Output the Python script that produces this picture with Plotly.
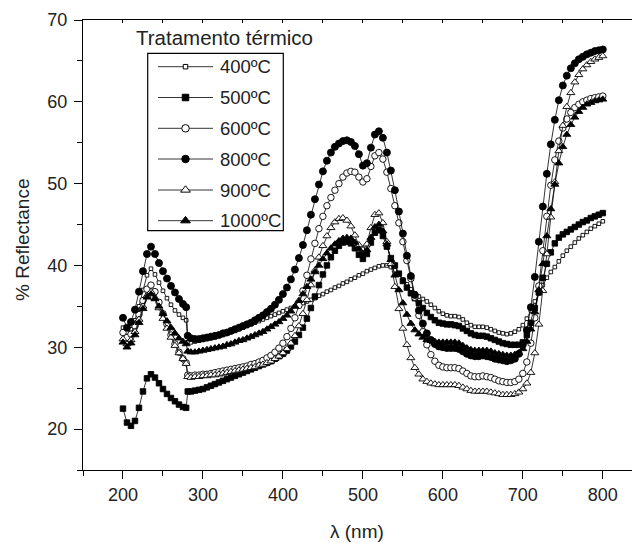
import plotly.graph_objects as go

# Wavelength grid (nm); the spectrometer lamp change near 280 nm gives a step
wavelength = list(range(200, 280, 5)) + [279, 281] + list(range(285, 805, 5))

temperatures = ["400ºC", "500ºC", "600ºC", "800ºC", "900ºC", "1000ºC"]

r400 = [32.4, 31.8, 32.2, 33.3, 35.0, 37.0, 38.8, 39.6, 38.9, 37.9, 36.9, 36.0, 35.2, 34.5, 34.0, 33.6, 33.3,
        30.6, 30.6, 30.7, 30.8, 30.9, 31.0, 31.1, 31.2, 31.4, 31.5, 31.7, 31.9, 32.0, 32.2, 32.4, 32.6, 32.8,
        33.0, 33.2, 33.4, 33.6, 33.8, 34.0, 34.2, 34.4, 34.6, 34.8, 35.0, 35.2, 35.4, 35.6, 35.8, 36.0, 36.3,
        36.5, 36.8, 37.0, 37.3, 37.5, 37.8, 38.0, 38.3, 38.5, 38.8, 39.0, 39.3, 39.5, 39.7, 39.9, 40.0, 40.0,
        39.8, 39.4, 38.9, 38.3, 37.7, 37.1, 36.6, 36.2, 35.9, 35.6, 35.2, 34.8, 34.4, 34.1, 33.9, 33.8, 33.8,
        33.7, 33.4, 33.0, 32.7, 32.5, 32.5, 32.5, 32.4, 32.2, 32.0, 31.8, 31.7, 31.6, 31.7, 31.9, 32.2, 32.7,
        33.5, 34.5, 35.6, 36.6, 37.6, 38.5, 39.2, 39.8, 40.5, 41.2, 41.8, 42.3, 42.8, 43.3, 43.7, 44.1, 44.5,
        44.8, 45.1, 45.4]

r500 = [22.5, 20.8, 20.4, 21.0, 22.6, 24.6, 26.2, 26.7, 26.3, 25.6, 24.9, 24.3, 23.8, 23.4, 23.0, 22.7, 22.6,
        24.6, 24.6, 24.7, 24.8, 24.9, 25.1, 25.3, 25.5, 25.7, 25.9, 26.1, 26.3, 26.5, 26.7, 26.9, 27.1, 27.3,
        27.5, 27.7, 27.9, 28.1, 28.3, 28.6, 28.9, 29.2, 29.6, 30.1, 30.7, 31.5, 32.4, 33.5, 34.8, 36.2, 37.6,
        38.9, 40.0, 41.0, 41.8, 42.4, 42.8, 42.9, 42.7, 42.1, 41.3, 40.8, 41.4, 42.8, 44.0, 44.3, 43.6, 42.3,
        40.9, 40.0, 39.0, 38.1, 37.3, 36.6, 36.0, 35.4, 34.8, 34.2, 33.7, 33.3, 33.0, 32.9, 32.8, 32.8, 32.7,
        32.6, 32.3, 32.0, 31.7, 31.5, 31.4, 31.4, 31.3, 31.1, 30.9, 30.7, 30.5, 30.4, 30.3, 30.3, 30.3, 30.6,
        31.5, 33.0, 34.8, 36.7, 38.5, 40.2, 41.6, 42.7, 43.4, 43.8, 44.1, 44.4, 44.7, 45.0, 45.3, 45.5, 45.8,
        46.0, 46.2, 46.4]

r600 = [31.8, 31.2, 31.6, 32.6, 34.0, 35.7, 37.1, 37.6, 36.8, 35.5, 34.1, 32.8, 31.5, 30.4, 29.4, 28.6, 28.1,
        26.6, 26.5, 26.6, 26.6, 26.7, 26.7, 26.8, 26.9, 27.0, 27.1, 27.2, 27.3, 27.4, 27.5, 27.6, 27.7, 27.9,
        28.0, 28.2, 28.4, 28.7, 29.0, 29.4, 29.9, 30.5, 31.3, 32.3, 33.6, 35.1, 36.9, 38.8, 40.8, 42.7, 44.5,
        46.0, 47.3, 48.3, 49.2, 50.0, 50.8, 51.3, 51.5, 51.4, 50.8, 50.2, 50.6, 52.1, 53.4, 53.8, 53.0, 51.4,
        49.4, 47.3, 45.2, 42.9, 40.6, 38.4, 36.1, 33.9, 31.9, 30.3, 29.1, 28.3, 27.8, 27.6, 27.5, 27.5, 27.5,
        27.4, 27.1, 26.8, 26.5, 26.4, 26.4, 26.5, 26.4, 26.3, 26.1, 25.9, 25.8, 25.7, 25.7, 25.8, 26.1, 26.8,
        28.2, 30.5, 33.6, 37.5, 41.8, 46.0, 49.8, 52.9, 55.2, 56.8, 57.9, 58.7, 59.3, 59.7, 60.0, 60.2, 60.4,
        60.5, 60.6, 60.7]

r800 = [33.6, 32.4, 33.1, 34.6, 36.8, 39.3, 41.4, 42.3, 41.4, 40.3, 39.3, 38.4, 37.5, 36.7, 35.9, 35.3, 34.9,
        31.4, 31.1, 31.0, 31.0, 31.1, 31.2, 31.3, 31.4, 31.5, 31.7, 31.8, 32.0, 32.2, 32.4, 32.6, 32.8, 33.0,
        33.3, 33.6, 33.9, 34.3, 34.7, 35.2, 35.8, 36.5, 37.3, 38.3, 39.5, 40.9, 42.5, 44.3, 46.2, 48.1, 49.9,
        51.5, 52.8, 53.8, 54.5, 54.9, 55.2, 55.3, 55.1, 54.6, 53.6, 52.2, 52.5, 54.4, 56.0, 56.4, 55.6, 53.8,
        51.6, 49.2, 46.6, 43.9, 41.2, 38.7, 36.4, 34.5, 32.9, 31.7, 30.9, 30.4, 30.1, 30.0, 29.9, 29.9, 29.9,
        29.8, 29.5, 29.2, 29.0, 28.9, 28.9, 29.0, 28.9, 28.8, 28.6, 28.5, 28.4, 28.3, 28.4, 28.6, 29.2, 30.3,
        32.1, 34.9, 38.6, 42.9, 47.2, 51.2, 54.8, 57.8, 60.2, 62.0, 63.2, 64.1, 64.7, 65.2, 65.5, 65.8, 66.0,
        66.2, 66.3, 66.4]

r900 = [31.0, 30.4, 30.9, 31.9, 33.4, 35.0, 36.3, 36.8, 36.0, 34.8, 33.5, 32.3, 31.2, 30.2, 29.3, 28.6, 28.0,
        26.4, 26.3, 26.4, 26.4, 26.5, 26.5, 26.6, 26.6, 26.7, 26.8, 26.9, 27.0, 27.1, 27.2, 27.3, 27.4, 27.5,
        27.6, 27.8, 27.9, 28.1, 28.3, 28.6, 28.9, 29.3, 29.8, 30.5, 31.4, 32.6, 34.1, 35.8, 37.6, 39.4, 41.0,
        42.4, 43.6, 44.6, 45.3, 45.7, 45.8, 45.5, 44.8, 43.7, 42.5, 41.9, 42.6, 44.6, 46.2, 46.4, 45.2, 42.9,
        40.2, 37.4, 34.7, 32.3, 30.3, 28.7, 27.5, 26.7, 26.1, 25.8, 25.6, 25.5, 25.4, 25.4, 25.4, 25.4, 25.4,
        25.3, 25.1, 24.9, 24.7, 24.6, 24.6, 24.6, 24.6, 24.5, 24.4, 24.3, 24.2, 24.2, 24.2, 24.3, 24.5, 24.9,
        25.6, 26.9, 29.3, 32.8, 36.9, 41.4, 45.9, 50.2, 54.0, 57.1, 59.4, 61.1, 62.4, 63.3, 64.0, 64.5, 64.9,
        65.2, 65.4, 65.6]

r1000 = [30.6, 30.0, 30.5, 31.5, 33.0, 34.7, 36.1, 36.5, 35.9, 35.0, 34.1, 33.2, 32.4, 31.7, 31.1, 30.7, 30.4,
         29.5, 29.4, 29.4, 29.5, 29.6, 29.7, 29.8, 29.9, 30.0, 30.1, 30.3, 30.4, 30.6, 30.8, 30.9, 31.1, 31.3,
         31.5, 31.7, 31.9, 32.2, 32.5, 32.8, 33.1, 33.5, 33.9, 34.4, 35.0, 35.7, 36.5, 37.4, 38.3, 39.2, 40.0,
         40.8, 41.5, 42.1, 42.6, 43.0, 43.3, 43.4, 43.3, 42.8, 42.0, 41.4, 41.9, 43.4, 44.7, 45.0, 44.2, 42.6,
         40.7, 38.8, 37.0, 35.4, 34.0, 32.9, 32.1, 31.6, 31.2, 30.9, 30.8, 30.7, 30.6, 30.6, 30.6, 30.6, 30.6,
         30.5, 30.2, 29.9, 29.7, 29.6, 29.6, 29.6, 29.6, 29.5, 29.3, 29.2, 29.1, 29.0, 29.0, 29.1, 29.3, 29.8,
         30.7, 32.2, 34.3, 37.0, 40.2, 43.6, 46.9, 49.9, 52.5, 54.5, 56.0, 57.2, 58.1, 58.8, 59.3, 59.7, 59.9,
         60.1, 60.2, 60.3]

series = [r400, r500, r600, r800, r900, r1000]
for name, vals in zip(temperatures, series):
    if len(vals) != len(wavelength):
        raise ValueError(f"{name}: {len(vals)} values for {len(wavelength)} wavelengths")

# marker style per treatment: (symbol, plot size, legend size, fill)
styles = [
    ("square", 3.6, 4.5, "white"),
    ("square", 5.5, 6.5, "black"),
    ("circle", 6.5, 7.5, "white"),
    ("circle", 7.0, 7.5, "black"),
    ("triangle-up", 7.0, 8.5, "white"),
    ("triangle-up", 7.0, 8.5, "black"),
]

FONT = "Liberation Sans, Arial, Helvetica, sans-serif"
W, H = 632, 543
ML, MT, MB = 83, 20, 73
PW, PH = W - ML, H - MT - MB

fig = go.Figure()

for name, vals, (sym, size, _, fill) in zip(temperatures, series, styles):
    fig.add_trace(go.Scatter(
        x=wavelength, y=vals, name=name, mode="lines+markers",
        line=dict(color="black", width=0.8),
        marker=dict(symbol=sym, size=size, color=fill,
                    line=dict(color="black", width=0.9)),
        showlegend=False,
    ))

# Legend drawn on a pixel-scaled overlay axis pair (origin at top-left of plot area)
row_y = [46.7, 77.5, 108.3, 139.0, 170.0, 200.7]
x_line0, x_line1 = 75, 130
x_mark = 102.5
x_text = 135
for name, yy, (sym, _, lsize, fill) in zip(temperatures, row_y, styles):
    fig.add_trace(go.Scatter(
        x=[x_line0, x_line1], y=[yy, yy], mode="lines",
        line=dict(color="black", width=0.8),
        xaxis="x2", yaxis="y2", showlegend=False, hoverinfo="skip",
    ))
    fig.add_trace(go.Scatter(
        x=[x_mark], y=[yy], mode="markers",
        marker=dict(symbol=sym, size=lsize, color=fill,
                    line=dict(color="black", width=1)),
        xaxis="x2", yaxis="y2", showlegend=False, hoverinfo="skip",
    ))
    fig.add_annotation(x=x_text, y=yy, xref="x2", yref="y2", text=name,
                       showarrow=False, xanchor="left", yanchor="middle",
                       font=dict(family=FONT, size=18.5, color="#222"))

fig.add_shape(type="rect", xref="x2", yref="y2", x0=64.7, x1=200.3, y0=33.3, y1=210.7,
              line=dict(color="black", width=1.2), fillcolor="rgba(0,0,0,0)")
fig.add_annotation(x=141, y=17, xref="x2", yref="y2", text="Tratamento térmico",
                   showarrow=False, xanchor="center", yanchor="middle",
                   font=dict(family=FONT, size=20.5, color="#222"))

# empty trace so the top tick axis is rendered
fig.add_trace(go.Scatter(x=[], y=[], xaxis="x3", yaxis="y", showlegend=False))

axis_common = dict(showgrid=False, zeroline=False, color="black",
                   tickfont=dict(family=FONT, size=18, color="#222"))

fig.update_layout(
    width=W, height=H, autosize=False,
    margin=dict(l=ML, r=0, t=MT, b=MB, pad=0),
    paper_bgcolor="white", plot_bgcolor="white",
    showlegend=False,
    xaxis=dict(range=[150, 836.5], showline=True, linecolor="black", linewidth=1.3,
               mirror=True, ticks="outside", ticklen=8, tickwidth=1.3, tickcolor="black",
               tick0=0, dtick=100,
               minor=dict(dtick=50, tick0=0, ticks="outside", ticklen=5,
                          tickwidth=1.2, tickcolor="black"),
               **axis_common),
    yaxis=dict(range=[15, 70], showline=True, linecolor="black", linewidth=1.3,
               mirror=False, ticks="outside", ticklen=8, tickwidth=1.3, tickcolor="black",
               tick0=0, dtick=10, ticklabelstandoff=3,
               minor=dict(dtick=5, tick0=0, ticks="outside", ticklen=5,
                          tickwidth=1.2, tickcolor="black"),
               **axis_common),
    xaxis2=dict(overlaying="x", anchor="y2", range=[0, PW], visible=False, fixedrange=True),
    yaxis2=dict(overlaying="y", anchor="x2", range=[PH, 0], visible=False, fixedrange=True),
    xaxis3=dict(overlaying="x", anchor="y", side="top", range=[150, 836.5],
                ticks="inside", ticklen=3, tickwidth=1, tickcolor="black",
                tick0=0, dtick=50, showticklabels=False, showline=False,
                showgrid=False, zeroline=False),
)

fig.add_annotation(text="% Reflectance", textangle=-90, xref="paper", yref="paper",
                   x=(22 - ML) / PW, y=1 - (240 - MT) / PH, showarrow=False,
                   xanchor="center", yanchor="middle",
                   font=dict(family=FONT, size=19, color="#222"))
fig.add_annotation(text="λ (nm)", xref="paper", yref="paper",
                   x=(357 - ML) / PW, y=-(531 - (H - MB)) / PH, showarrow=False,
                   xanchor="center", yanchor="middle",
                   font=dict(family=FONT, size=19, color="#222"))

fig.write_html("out.html")
